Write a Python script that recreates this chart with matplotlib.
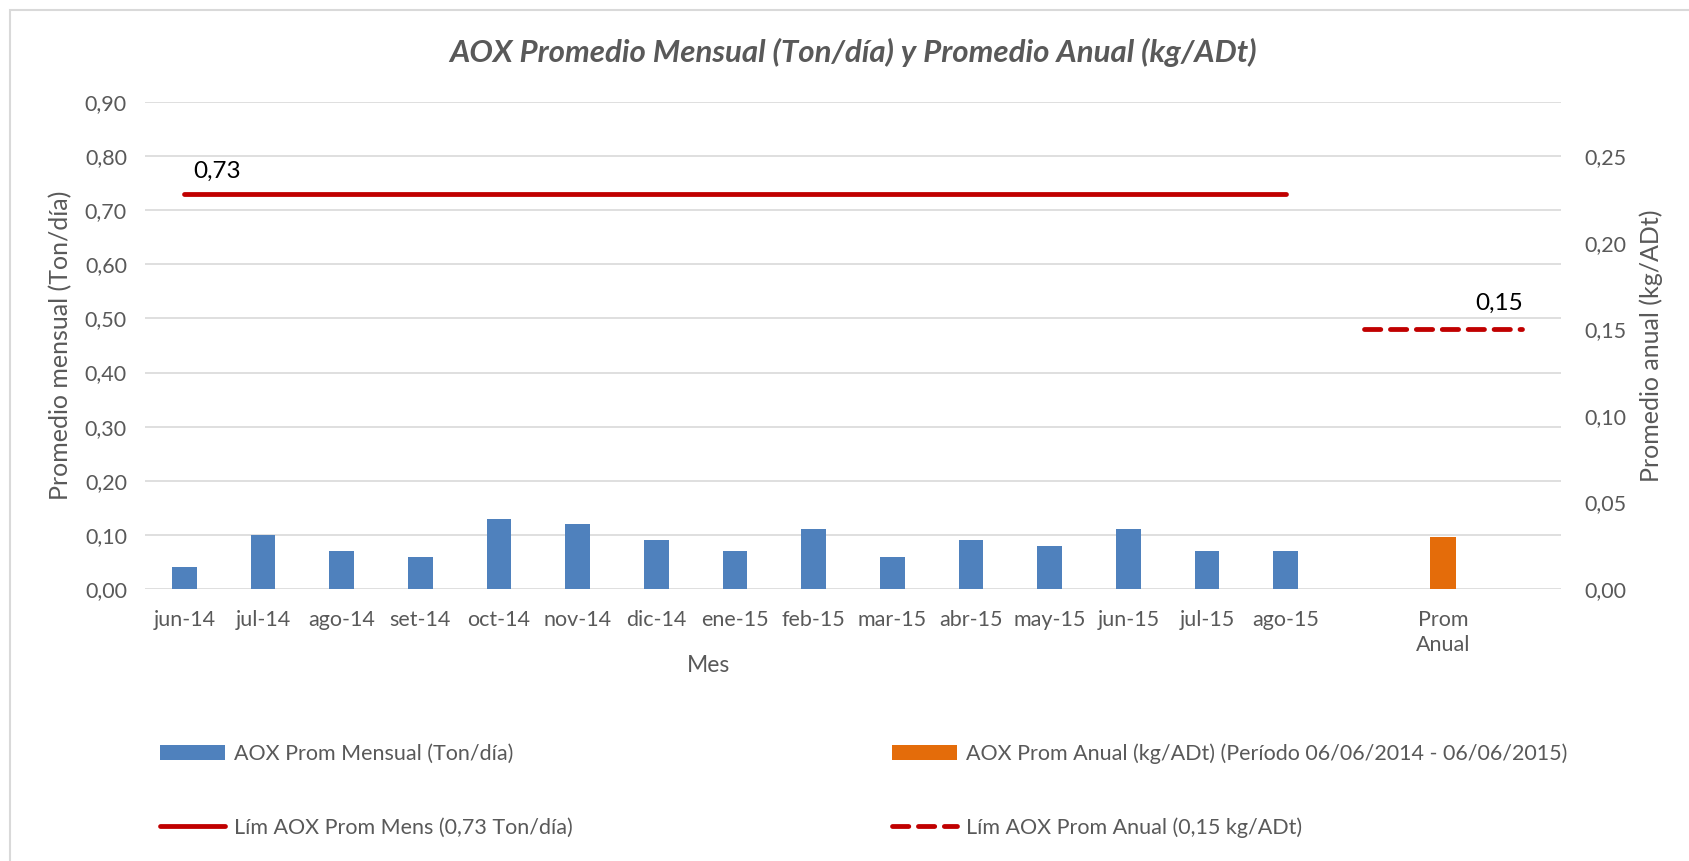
import matplotlib
matplotlib.use('Agg')
import matplotlib.pyplot as plt
from matplotlib.patches import Rectangle
from matplotlib.ticker import FuncFormatter, MultipleLocator

# datos del grafico
meses = ['jun-14', 'jul-14', 'ago-14', 'set-14', 'oct-14', 'nov-14', 'dic-14', 'ene-15',
         'feb-15', 'mar-15', 'abr-15', 'may-15', 'jun-15', 'jul-15', 'ago-15']
categorias = meses + ['', 'Prom\nAnual', '']
prom_mensual = [0.04, 0.10, 0.07, 0.06, 0.13, 0.12, 0.09, 0.07, 0.11, 0.06, 0.09, 0.08, 0.11, 0.07, 0.07]
prom_anual = [0.03]
lim_mens = 0.73
lim_anual = 0.15

gris = '#595959'
plt.rcParams['font.family'] = ['Lato', 'DejaVu Sans']

fig = plt.figure(figsize=(16.9, 8.61), dpi=100)
ax = fig.add_axes([145/1690, 272/861, 1416/1690, 487/861])
ax2 = ax.twinx()

x_mes = list(range(len(meses)))
i_anual = categorias.index('Prom\nAnual')

ax.bar(x_mes, prom_mensual, width=0.31, color='#4F81BD', label='AOX Prom Mensual (Ton/día)', zorder=2)
ax.plot(x_mes, [lim_mens]*len(meses), color='#C00000', lw=4.8/1.389, solid_capstyle='round',
        label='Lím AOX Prom Mens (0,73 Ton/día)', zorder=3)
ax.annotate('0,73', (x_mes[0], lim_mens), xytext=(33, 23), textcoords='offset pixels',
            ha='center', va='center', fontsize=17.5, color='black')

ax2.bar([i_anual], prom_anual, width=0.34, color='#E46C0A',
        label='AOX Prom Anual (kg/ADt) (Período 06/06/2014 - 06/06/2015)', zorder=2)
x_lim = [i_anual - 1, i_anual, i_anual + 1]
ax2.plot(x_lim, [lim_anual]*3, color='#C00000', lw=4.8/1.389, linestyle=(0, (3.4, 2.0)),
         dash_capstyle='round', label='Lím AOX Prom Anual (0,15 kg/ADt)', zorder=3)
ax2.annotate('0,15', (x_lim[-1], lim_anual), xytext=(-23, 26), textcoords='offset pixels',
             ha='center', va='center', fontsize=17.5, color='black')

fmt = FuncFormatter(lambda v, p: f'{v:.2f}'.replace('.', ','))
ax.set_xlim(-0.5, len(categorias) - 0.5)
ax.set_ylim(0, 0.9)
ax.yaxis.set_major_locator(MultipleLocator(0.1))
ax.yaxis.set_major_formatter(fmt)
ax2.set_ylim(0, 0.28125)
ax2.set_yticks([0, 0.05, 0.10, 0.15, 0.20, 0.25])
ax2.yaxis.set_major_formatter(fmt)

ax.set_xticks(range(len(categorias)))
ax.set_xticklabels(categorias, linespacing=1.35)

ax.grid(axis='y', color='#D9D9D9', lw=1.2)
ax.set_axisbelow(True)
for a in (ax, ax2):
    for s in a.spines.values():
        s.set_visible(False)
ax.tick_params(axis='both', length=0, labelsize=15.5, labelcolor=gris)
ax.tick_params(axis='y', pad=13)
ax.tick_params(axis='x', pad=15)
ax2.tick_params(axis='y', length=0, labelsize=15.5, labelcolor=gris, pad=17)

ax.set_ylabel('Promedio mensual (Ton/día)', fontsize=18, color=gris)
ax.yaxis.set_label_coords(-0.0595, 0.5)
ax.yaxis.label.set_va('center')
ax2.set_ylabel('Promedio anual (kg/ADt)', fontsize=18, color=gris, rotation=90)
ax2.yaxis.set_label_coords(1.0635, 0.5)
ax2.yaxis.label.set_va('center')
ax.set_xlabel('Mes', fontsize=16.5, color=gris)
ax.xaxis.set_label_coords(0.3976, -0.158)
ax.xaxis.label.set_va('center')

fig.text(853/1690, 1 - 52/861, 'AOX Promedio Mensual (Ton/día) y Promedio Anual (kg/ADt)',
         ha='center', va='center', fontsize=22.5, fontweight='bold', fontstyle='italic', color=gris)

h1, l1 = ax.get_legend_handles_labels()
h2, l2 = ax2.get_legend_handles_labels()
# barras primero, luego las lineas
h1, l1 = h1[::-1], l1[::-1]
h2, l2 = h2[::-1], l2[::-1]
leg_opts = dict(loc='center left', frameon=False, fontsize=15.5, labelcolor=gris, borderpad=0,
                borderaxespad=0, handlelength=3.0, handletextpad=0.45, labelspacing=2.5)
leg1 = fig.legend(h1, l1, bbox_to_anchor=(160/1690, 1 - 790.5/861), **leg_opts)
leg2 = fig.legend(h2, l2, bbox_to_anchor=(892/1690, 1 - 790.5/861), **leg_opts)

# borde del area del grafico
fig.add_artist(Rectangle((10/1690, -0.02), 1.0, 1 - 10/861 + 0.02, transform=fig.transFigure,
                         fill=False, edgecolor='#D9D9D9', lw=1.5))

fig.savefig('out.png', dpi=100)
